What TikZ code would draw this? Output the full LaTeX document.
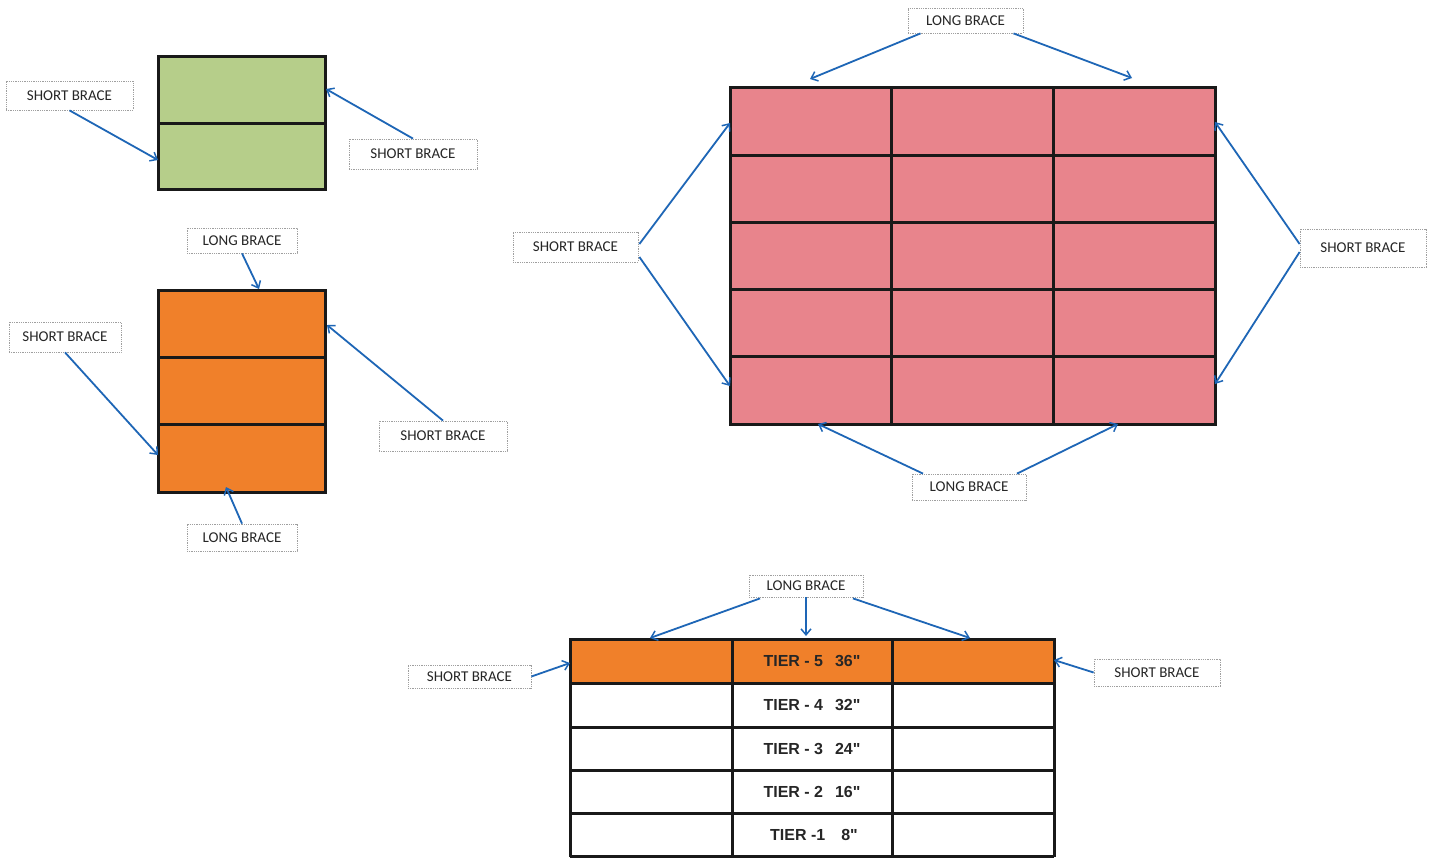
\documentclass[tikz,border=0pt]{standalone}
\usepackage{fontspec}
\setmainfont{Carlito}
\newfontfamily\arialfont{Liberation Sans}
\usetikzlibrary{arrows.meta,calc}
\definecolor{arrowblue}{RGB}{30,102,182}
\definecolor{greenfill}{RGB}{182,206,138}
\definecolor{orangefill}{RGB}{240,128,42}
\definecolor{pinkfill}{RGB}{232,132,140}
\begin{document}
\begin{tikzpicture}[x=1pt,y=-1pt,
  lbl/.style={draw=gray!75, densely dotted, line width=0.8pt, fill=white,
    font=\fontsize{15}{18}\selectfont, inner sep=0pt, text=black!85},
  brace/.style={draw=arrowblue, line width=1.8pt,
    -{Straight Barb[length=6pt,width=10pt,line width=1.5pt]}},
  gridline/.style={line width=3pt, draw=black!90},
  tier/.style={font=\arialfont\bfseries\fontsize{16}{19}\selectfont, text=black!85}]
\useasboundingbox[fill=white] (0,0) rectangle (1434,857);

% ---------- green box ----------
\fill[greenfill] (158,56) rectangle (325,189);
\draw[gridline] (158,56) rectangle (325,189);
\draw[gridline] (158,123) -- (325,123);
\coordinate (g1) at (158,160);
\coordinate (g2) at (326,89);
\node[lbl, minimum width=127pt, minimum height=29pt] (L1) at (69.5,95.5) {SHORT BRACE};
\node[lbl, minimum width=128pt, minimum height=30pt] (L2) at (413,154) {SHORT BRACE};
\draw[brace] (L1.south) -- (g1);
\draw[brace] (L2.north) -- (g2);

% ---------- orange box ----------
\fill[orangefill] (158,290) rectangle (325,492);
\draw[gridline] (158,290) rectangle (325,492);
\draw[gridline] (158,357) -- (325,357);
\draw[gridline] (158,424) -- (325,424);
\coordinate (o1) at (259,289);
\coordinate (o2) at (158,455);
\coordinate (o3) at (327,325);
\coordinate (o4) at (226,487);
\node[lbl, minimum width=110pt, minimum height=25pt] (L3) at (242,240.5) {LONG BRACE};
\node[lbl, minimum width=112pt, minimum height=30pt] (L4) at (65,337) {SHORT BRACE};
\node[lbl, minimum width=128pt, minimum height=30pt] (L5) at (443,436) {SHORT BRACE};
\node[lbl, minimum width=110pt, minimum height=27pt] (L6) at (242,537.5) {LONG BRACE};
\draw[brace] (L3.south) -- (o1);
\draw[brace] (L4.south) -- (o2);
\draw[brace] (L5.north) -- (o3);
\draw[brace] (L6.north) -- (o4);

% ---------- pink grid ----------
\fill[pinkfill] (730,87) rectangle (1215,424);
\foreach \yy in {155,222,289,356} \draw[gridline] (730,\yy) -- (1215,\yy);
\foreach \xx in {891,1053} \draw[gridline] (\xx,87) -- (\xx,424);
\draw[gridline] (730,87) rectangle (1215,424);
\coordinate (p1) at (810,79);
\coordinate (p2) at (1132,78);
\coordinate (p3) at (730,123);
\coordinate (p4) at (730,386);
\coordinate (p5) at (1215,122);
\coordinate (p6) at (1215,384);
\coordinate (p7) at (818,424);
\coordinate (p8) at (1118,424);
\node[lbl, minimum width=115pt, minimum height=25pt] (P1) at (965.5,20.5) {LONG BRACE};
\node[lbl, minimum width=125pt, minimum height=30pt] (P2) at (575.5,247) {SHORT BRACE};
\node[lbl, minimum width=126pt, minimum height=38pt] (P3) at (1363,248) {SHORT BRACE};
\node[lbl, minimum width=114pt, minimum height=26pt] (P4) at (969,487) {LONG BRACE};
\draw[brace] ($(P1.south)+(-45,0)$) -- (p1);
\draw[brace] ($(P1.south)+(48,0)$) -- (p2);
\draw[brace] ($(P2.east)+(1,-3)$) -- (p3);
\draw[brace] ($(P2.east)+(1,10)$) -- (p4);
\draw[brace] ($(P3.west)+(0,-4)$) -- (p5);
\draw[brace] ($(P3.west)+(0,4)$) -- (p6);
\draw[brace] ($(P4.north)+(-46,0)$) -- (p7);
\draw[brace] ($(P4.north)+(48,0)$) -- (p8);

% ---------- tier table ----------
\fill[orangefill] (570,639) rectangle (1054,683);
\foreach \yy in {683,727,770,813} \draw[gridline] (570,\yy) -- (1054,\yy);
\foreach \xx in {732,892} \draw[gridline] (\xx,639) -- (\xx,857);
\draw[gridline] (570,857) -- (570,639) -- (1054,639) -- (1054,857);
\draw[gridline] (570,856) -- (1054,856);
\node[tier] (t5) at (812,661) {TIER - 5\hspace{12pt}36"};
\node[tier] (t4) at (812,705) {TIER - 4\hspace{12pt}32"};
\node[tier] (t3) at (812,748.5) {TIER - 3\hspace{12pt}24"};
\node[tier] (t2) at (812,791.5) {TIER - 2\hspace{12pt}16"};
\node[tier] (t1) at (814,834.5) {TIER -1\hspace{16pt}8"};
\coordinate (q1) at (650,638);
\coordinate (q2) at (806,636);
\coordinate (q3) at (970,638);
\coordinate (q4) at (570,663);
\coordinate (q5) at (1054,660);
\node[lbl, minimum width=114pt, minimum height=22pt] (T1) at (806,586) {LONG BRACE};
\node[lbl, minimum width=123pt, minimum height=23pt] (T2) at (469.5,676.5) {SHORT BRACE};
\node[lbl, minimum width=126pt, minimum height=27pt] (T3) at (1157,672.5) {SHORT BRACE};
\draw[brace] ($(T1.south)+(-46,1)$) -- (q1);
\draw[brace] (T1.south) -- (q2);
\draw[brace] ($(T1.south)+(47,1)$) -- (q3);
\draw[brace] (T2.east) -- (q4);
\draw[brace] (T3.west) -- (q5);
\end{tikzpicture}
\end{document}
